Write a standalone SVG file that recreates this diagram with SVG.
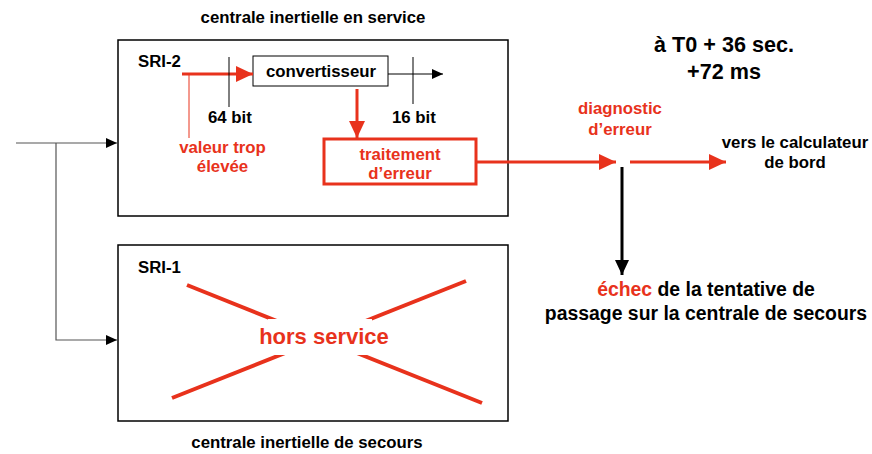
<svg xmlns="http://www.w3.org/2000/svg" width="872" height="454" viewBox="0 0 872 454">
<style>
text{font-family:"Liberation Sans",Arial,sans-serif;font-weight:bold;}
.k{fill:#000}
.r{fill:#e8321c}
.box{fill:#fff;stroke:#000;stroke-width:1.5}
.thin{stroke:#555;stroke-width:1.2;fill:none}
.blk{stroke:#000;stroke-width:1;fill:none}
.red3{stroke:#e8321c;stroke-width:3;fill:none}
</style>
<defs>
<marker id="ab" markerUnits="userSpaceOnUse" markerWidth="12" markerHeight="10" refX="11" refY="5" orient="auto"><path d="M0,0 L11,5 L0,10 Z" fill="#000"/></marker>
<marker id="ar" markerUnits="userSpaceOnUse" markerWidth="18" markerHeight="16" refX="17" refY="8" orient="auto"><path d="M0,0 L17,8 L0,16 Z" fill="#e8321c"/></marker>
<marker id="ak" markerUnits="userSpaceOnUse" markerWidth="16" markerHeight="14" refX="15" refY="7" orient="auto"><path d="M0,0 L15,7 L0,14 Z" fill="#000"/></marker>
</defs>
<rect width="872" height="454" fill="#fff"/>

<text class="k" x="313" y="23" font-size="16.8" text-anchor="middle">centrale inertielle en service</text>
<text class="k" x="307" y="448" font-size="16.8" text-anchor="middle">centrale inertielle de secours</text>

<g id="sri2">
<rect class="box" x="118" y="40" width="390" height="176"/>
<text class="k" x="138" y="67" font-size="16.8">SRI-2</text>
</g>
<g id="convertisseur">
<rect x="253" y="56" width="135" height="30" fill="#fff" stroke="#000" stroke-width="1"/>
<text class="k" x="321" y="77" font-size="16.8" text-anchor="middle">convertisseur</text>
</g>
<g id="traitement">
<rect x="324" y="139" width="152" height="45" fill="#fff" stroke="#e8321c" stroke-width="3"/>
<text class="r" x="400" y="160" font-size="16.8" text-anchor="middle">traitement</text>
<text class="r" x="400" y="179" font-size="16.8" text-anchor="middle">d’erreur</text>
</g>
<g id="sri1">
<rect class="box" x="118" y="245" width="390" height="176"/>
<text class="k" x="138" y="273" font-size="16.8">SRI-1</text>
<line x1="187" y1="285" x2="482" y2="403" stroke="#e8321c" stroke-width="4"/>
<line x1="466" y1="281" x2="172" y2="398" stroke="#e8321c" stroke-width="4"/>
<rect x="268" y="319" width="104" height="36" fill="#fff"/>
<text class="r" x="324" y="344" font-size="22" text-anchor="middle">hors service</text>
</g>

<g id="connectors">
<polyline class="thin" points="16,143 117,143" marker-end="url(#ab)"/>
<polyline class="thin" points="56,143 56,340 117,340" marker-end="url(#ab)"/>
<line class="red3" x1="182" y1="74" x2="253" y2="74" marker-end="url(#ar)"/>
<line x1="189" y1="74" x2="189" y2="138" stroke="#e8321c" stroke-width="1"/>
<line class="blk" x1="229" y1="57" x2="229" y2="107"/>
<line class="blk" x1="388" y1="74" x2="443" y2="74" marker-end="url(#ab)"/>
<line class="blk" x1="413" y1="57" x2="413" y2="104"/>
<line class="red3" x1="357" y1="89" x2="357" y2="138" marker-end="url(#ar)"/>
<line class="red3" x1="476" y1="162" x2="616" y2="162" marker-end="url(#ar)"/>
<line class="red3" x1="630" y1="162" x2="726" y2="162" marker-end="url(#ar)"/>
<line x1="622" y1="167" x2="622" y2="275" stroke="#000" stroke-width="3" marker-end="url(#ak)"/>
</g>

<text class="k" x="208" y="123" font-size="16.8">64 bit</text>
<text class="k" x="392" y="123" font-size="16.8">16 bit</text>
<text class="r" x="222.5" y="153" font-size="16.8" text-anchor="middle">valeur trop</text>
<text class="r" x="222.5" y="172" font-size="16.8" text-anchor="middle">élevée</text>
<text class="r" x="620" y="114" font-size="16.8" text-anchor="middle">diagnostic</text>
<text class="r" x="620" y="135" font-size="16.8" text-anchor="middle">d’erreur</text>
<text class="k" x="795" y="148" font-size="16.8" text-anchor="middle">vers le calculateur</text>
<text class="k" x="795" y="168" font-size="16.8" text-anchor="middle">de bord</text>
<text class="k" x="724" y="52" font-size="21.6" text-anchor="middle">à T0 + 36 sec.</text>
<text class="k" x="724" y="79" font-size="21.6" text-anchor="middle">+72 ms</text>
<text x="706" y="296" font-size="19.4" text-anchor="middle"><tspan class="r">échec</tspan><tspan class="k"> de la tentative de</tspan></text>
<text class="k" x="706" y="320" font-size="19.4" text-anchor="middle">passage sur la centrale de secours</text>
</svg>
